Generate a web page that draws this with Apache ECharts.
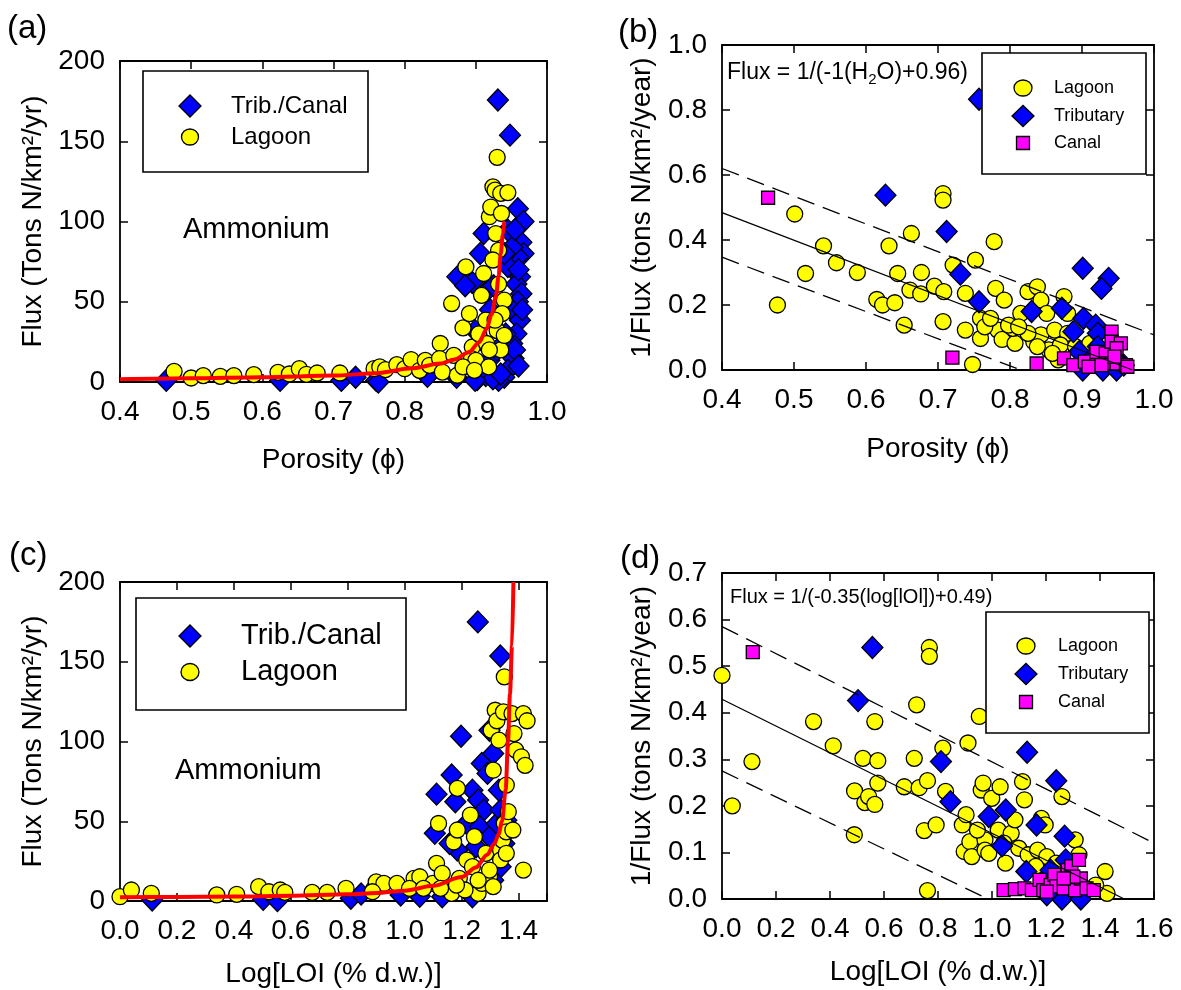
<!DOCTYPE html>
<html><head><meta charset="utf-8">
<script src="https://cdn.jsdelivr.net/npm/echarts@6/dist/echarts.min.js"></script>
<style>html,body{margin:0;padding:0;background:#fff}#c{width:1181px;height:990px}</style>
</head><body><div id="c"></div><script>
const FONT = '"Liberation Sans", Arial, Helvetica, sans-serif';

// ---- tick values ----
const porosityTicks = [0.4, 0.5, 0.6, 0.7, 0.8, 0.9, 1.0];
const fluxTicks = [0, 50, 100, 150, 200];
const invFluxTicksB = [0, 0.2, 0.4, 0.6, 0.8, 1.0];
const logLoiTicksC = [0, 0.2, 0.4, 0.6, 0.8, 1.0, 1.2, 1.4];
const logLoiMaxC = 1.5;
const logLoiTicksD = [0, 0.2, 0.4, 0.6, 0.8, 1.0, 1.2, 1.4, 1.6];
const invFluxTicksD = [0, 0.1, 0.2, 0.3, 0.4, 0.5, 0.6, 0.7];

// ---- panel (a): flux vs porosity ----
const aTrib = [[0.465,1],[0.625,1],[0.711,1],[0.731,3],[0.76,1],[0.763,0],[0.832,3.5],[0.873,3],[0.902,1.5],[0.931,175.7],[0.948,153.8],[0.959,108],[0.967,100],[0.964,87],[0.967,80],[0.959,78],[0.951,84],[0.945,72],[0.962,65.5],[0.957,61],[0.964,55],[0.959,50],[0.951,44.7],[0.962,38.5],[0.957,30],[0.951,24],[0.953,14.6],[0.945,7.3],[0.94,3],[0.932,1],[0.911,92.5],[0.906,80],[0.874,65.5],[0.895,62],[0.916,57],[0.899,32],[0.908,26],[0.919,13.5],[0.914,4],[0.924,2],[0.945,94.6],[0.94,80],[0.942,30],[0.899,1],[0.955,95],[0.96,70],[0.965,45],[0.955,20],[0.96,10],[0.925,60],[0.92,45],[0.93,20],[0.935,5],[0.885,60]];
const aLagoon = [[0.476,6.6],[0.50,2.5],[0.517,4],[0.541,3.5],[0.56,4],[0.588,4.6],[0.622,6],[0.638,5],[0.652,8.3],[0.662,4.8],[0.677,5.6],[0.709,5.6],[0.757,8.3],[0.765,9.4],[0.773,7.7],[0.789,10.8],[0.80,8.3],[0.809,14],[0.821,7.3],[0.829,13.5],[0.835,10.4],[0.85,24],[0.849,14.6],[0.853,6.2],[0.866,48.9],[0.869,16.6],[0.874,4.2],[0.882,33.7],[0.886,71.7],[0.891,42.6],[0.895,21.8],[0.894,14.6],[0.90,13.5],[0.904,30],[0.908,54],[0.911,67.6],[0.914,38.5],[0.915,24],[0.918,9.4],[0.919,103],[0.924,121.6],[0.927,119.5],[0.93,140],[0.921,109],[0.928,92.5],[0.932,82],[0.935,117.5],[0.945,118],[0.936,105],[0.924,76],[0.932,61],[0.94,51],[0.937,42.6],[0.93,32],[0.935,20],[0.927,38.5],[0.919,20],[0.94,29],[0.882,9.4],[0.898,7.3]];
const aFit = [[0.4,1.7],[0.5,2.3],[0.6,3.0],[0.7,4.0],[0.76,5.5],[0.81,8.5],[0.85,11.5],[0.87,14],[0.89,18.5],[0.905,25],[0.915,33],[0.922,42],[0.928,53],[0.932,66],[0.935,80],[0.938,92],[0.94,100]];

// ---- panel (b): 1/flux vs porosity ----
const bLagoon = [[0.477,0.20],[0.501,0.48],[0.516,0.297],[0.541,0.382],[0.559,0.33],[0.588,0.30],[0.615,0.217],[0.623,0.20],[0.632,0.382],[0.64,0.207],[0.644,0.297],[0.653,0.138],[0.661,0.246],[0.663,0.42],[0.676,0.234],[0.677,0.30],[0.695,0.258],[0.707,0.543],[0.707,0.523],[0.708,0.241],[0.707,0.149],[0.721,0.323],[0.738,0.236],[0.738,0.123],[0.748,0.017],[0.752,0.338],[0.759,0.159],[0.759,0.097],[0.778,0.395],[0.78,0.251],[0.792,0.215],[0.783,0.123],[0.789,0.094],[0.807,0.082],[0.804,0.128],[0.798,0.138],[0.815,0.174],[0.825,0.241],[0.838,0.256],[0.843,0.215],[0.851,0.174],[0.833,0.087],[0.843,0.108],[0.854,0.062],[0.862,0.123],[0.875,0.226],[0.867,0.031],[0.88,0.113],[0.87,0.077],[0.891,0.072],[0.901,0.051],[0.825,0.113],[0.765,0.133],[0.773,0.159],[0.812,0.133],[0.838,0.072],[0.859,0.051],[0.911,0.082],[0.88,0.174]];
const bTrib = [[0.757,0.833],[0.627,0.538],[0.712,0.426],[0.731,0.295],[0.757,0.21],[0.83,0.18],[0.872,0.19],[0.901,0.313],[0.937,0.282],[0.927,0.251],[0.902,0.159],[0.888,0.118],[0.919,0.138],[0.922,0.113],[0.896,0.056],[0.911,0.031],[0.929,0.0],[0.948,0.0],[0.901,0.0],[0.937,0.051],[0.922,0.072],[0.958,0.015],[0.948,0.031]];
const bCanal = [[0.464,0.53],[0.72,0.038],[0.837,0.02],[0.875,0.036],[0.888,0.015],[0.904,0.026],[0.92,0.026],[0.92,0.056],[0.933,0.051],[0.941,0.118],[0.941,0.087],[0.954,0.082],[0.948,0.067],[0.935,0.02],[0.948,0.02],[0.961,0.015],[0.963,0.01],[0.927,0.015],[0.909,0.01],[0.945,0.041]];
const bFit = [[0.4,0.484],[0.97,0]];
const bUpper = [[0.4,0.62],[1.0,0.108]];
const bLower = [[0.4,0.347],[0.815,0]];

// ---- panel (c): flux vs log LOI ----
const cTrib = [[0.113,0.6],[0.503,1],[0.553,0.2],[0.811,1.7],[0.847,4.4],[0.986,3.8],[1.053,3],[1.132,2.7],[1.238,2.7],[1.257,175],[1.336,153.6],[1.198,103.3],[1.165,79],[1.112,67],[1.106,42.4],[1.185,32],[1.178,62.2],[1.218,48.6],[1.238,69.5],[1.258,63.3],[1.271,86.2],[1.291,80],[1.311,92.5],[1.298,107],[1.278,57],[1.264,46.6],[1.298,40.3],[1.324,48.6],[1.337,57],[1.357,50.7],[1.35,36],[1.337,21.5],[1.311,13],[1.158,36],[1.251,34],[1.331,69.5]];
const cLagoon = [[0.0,2.7],[0.04,6.9],[0.11,4.8],[0.34,3.8],[0.41,4.2],[0.487,9],[0.523,5.8],[0.563,6.9],[0.579,5.4],[0.675,5.4],[0.728,5.4],[0.794,7.9],[0.891,7.5],[0.9,12],[0.927,11],[0.973,11],[1.033,14.2],[1.053,15.2],[1.017,7.9],[1.099,11],[1.112,23.6],[1.119,48.6],[1.132,17.3],[1.165,4.8],[1.172,37],[1.185,70.6],[1.185,44.5],[1.192,14.2],[1.218,25.7],[1.231,53.9],[1.238,21.5],[1.245,40.3],[1.258,4.8],[1.271,11],[1.298,15.2],[1.285,29.9],[1.304,107],[1.311,82],[1.318,119.6],[1.324,113],[1.331,100.8],[1.337,32],[1.344,38],[1.35,140.5],[1.347,118.6],[1.357,72.7],[1.35,48.6],[1.357,43.4],[1.337,25.7],[1.311,9],[1.364,56],[1.377,117.5],[1.384,105],[1.39,94.6],[1.41,90.4],[1.423,85],[1.417,117.5],[1.43,113],[1.417,19.4],[1.38,44.5],[1.357,29.9],[1.298,19.4],[1.258,13],[1.212,6.9],[1.182,10],[1.126,7.9],[1.066,7.9],[0.887,5.8]];
const cFit = [[0,2.3],[0.2,2.5],[0.4,2.8],[0.6,3.3],[0.8,4.2],[0.9,5],[1.0,6.5],[1.1,9.5],[1.2,15],[1.25,21],[1.29,29],[1.315,36],[1.33,42],[1.342,50],[1.355,70],[1.363,100],[1.37,130],[1.377,160],[1.382,200]];

// ---- panel (d): 1/flux vs log LOI ----
const dLagoon = [[0.0,0.48],[0.038,0.20],[0.111,0.295],[0.339,0.381],[0.412,0.329],[0.49,0.138],[0.491,0.232],[0.522,0.302],[0.529,0.207],[0.543,0.22],[0.566,0.381],[0.566,0.203],[0.577,0.297],[0.577,0.249],[0.675,0.241],[0.712,0.302],[0.721,0.417],[0.73,0.239],[0.761,0.254],[0.749,0.147],[0.761,0.018],[0.768,0.54],[0.768,0.521],[0.793,0.159],[0.818,0.324],[0.828,0.231],[0.89,0.159],[0.897,0.102],[0.904,0.181],[0.911,0.335],[0.918,0.123],[0.925,0.091],[0.953,0.392],[0.96,0.234],[0.967,0.249],[0.974,0.127],[0.974,0.105],[0.999,0.216],[1.03,0.241],[1.023,0.148],[1.05,0.077],[1.071,0.141],[1.085,0.17],[1.099,0.109],[1.113,0.252],[1.12,0.213],[1.134,0.095],[1.169,0.105],[1.183,0.173],[1.197,0.159],[1.203,0.091],[1.259,0.22],[1.308,0.127],[1.322,0.095],[1.419,0.059],[1.426,0.012],[1.384,0.03],[1.238,0.077],[1.287,0.041],[1.162,0.07],[0.988,0.098],[0.946,0.148],[1.044,0.12]];
const dTrib = [[0.557,0.54],[0.504,0.426],[0.811,0.295],[0.846,0.209],[0.988,0.177],[1.051,0.191],[1.037,0.114],[1.13,0.315],[1.165,0.159],[1.238,0.254],[1.269,0.135],[1.127,0.059],[1.217,0.062],[1.273,0.084],[1.259,0.0],[1.329,0.0],[1.308,0.044],[1.203,0.009]];
const dCanal = [[0.114,0.53],[1.043,0.019],[1.085,0.021],[1.12,0.023],[1.148,0.019],[1.176,0.041],[1.19,0.019],[1.217,0.03],[1.231,0.052],[1.238,0.027],[1.266,0.023],[1.28,0.062],[1.294,0.07],[1.308,0.019],[1.322,0.084],[1.329,0.044],[1.301,0.048],[1.35,0.023],[1.377,0.019],[1.266,0.044],[1.203,0.016]];
const dFit = [[0,0.429],[1.49,0]];
const dUpper = [[0,0.585],[1.6,0.12]];
const dLower = [[0,0.275],[0.985,0]];

// ---- layout ----
const grids = [
  {left:120, top:61, width:427, height:321},
  {left:722, top:45, width:432, height:325},
  {left:120, top:582, width:427, height:319},
  {left:722, top:573, width:432, height:326}
];

function axisPair(kind, gi, ticks, max, dec, name, nameGap) {
  const iv = +(ticks[1] - ticks[0]).toFixed(6);
  const last = ticks[ticks.length - 1];
  const base = {
    type:'value', gridIndex:gi, min:ticks[0], max:max, interval:iv,
    splitLine:{show:false},
    axisLine:{show:true, onZero:false, lineStyle:{color:'#000', width:1.8}},
    axisTick:{show:true, inside:true, length:8, lineStyle:{color:'#000', width:1.5}}
  };
  const main = Object.assign({}, base, {
    position: kind === 'x' ? 'bottom' : 'left',
    axisLabel:{show:true, margin: kind === 'x' ? 16 : 15, fontSize:28, fontFamily:FONT, color:'#000',
      formatter: v => (v > last + 1e-9 ? '' : v.toFixed(dec))},
    name:name, nameLocation:'middle', nameGap:nameGap,
    nameTextStyle:{fontSize:28, fontFamily:FONT, color:'#000'}
  });
  const sec = Object.assign({}, base, {position: kind === 'x' ? 'top' : 'right', axisLabel:{show:false}});
  return [main, sec];
}

const xAxes = [].concat(
  axisPair('x', 0, porosityTicks, 1.0, 1, 'Porosity (\u03d5)', 64),
  axisPair('x', 1, porosityTicks, 1.0, 1, 'Porosity (\u03d5)', 65),
  axisPair('x', 2, logLoiTicksC, logLoiMaxC, 1, 'Log[LOI (% d.w.)]', 59),
  axisPair('x', 3, logLoiTicksD, 1.6, 1, 'Log[LOI (% d.w.)]', 59)
);
const yAxes = [].concat(
  axisPair('y', 0, fluxTicks, 200, 0, 'Flux (Tons N/km\u00b2/yr)', 73),
  axisPair('y', 1, invFluxTicksB, 1.0, 1, '1/Flux (tons N/km\u00b2/year)', 66),
  axisPair('y', 2, fluxTicks, 200, 0, 'Flux (Tons N/km\u00b2/yr)', 73),
  axisPair('y', 3, invFluxTicksD, 0.7, 1, '1/Flux (tons N/km\u00b2/year)', 66)
);

const STY = {
  lagoon:{symbol:'circle', size:16, color:'#FFFF00'},
  trib:{symbol:'diamond', size:[21,22], color:'#0000FF'},
  canal:{symbol:'rect', size:13, color:'#FF00FF'}
};
function scatter(name, gi, data, kind) {
  const s = STY[kind];
  return {type:'scatter', name:name, xAxisIndex:gi*2, yAxisIndex:gi*2, data:data, clip:false,
    symbol:s.symbol, symbolSize:s.size,
    itemStyle:{color:s.color, borderColor:'#000', borderWidth:1.3, opacity:1}};
}
function line(name, gi, data, style) {
  return Object.assign({type:'line', name:name, xAxisIndex:gi*2, yAxisIndex:gi*2, data:data,
    showSymbol:false, symbol:'none', clip:false, silent:true}, style);
}
const RED = {lineStyle:{color:'#FF0000', width:4}, smooth:0.3, smoothMonotone:'x'};
const SOLID = {lineStyle:{color:'#000', width:1.3}};
const DASH = {lineStyle:{color:'#000', width:1.3, type:[18,9]}};

const series = [
  scatter('Trib./Canal', 0, aTrib, 'trib'),
  scatter('Lagoon', 0, aLagoon, 'lagoon'),
  line('fit a', 0, aFit, RED),
  scatter('Lagoon', 1, bLagoon, 'lagoon'),
  scatter('Tributary', 1, bTrib, 'trib'),
  scatter('Canal', 1, bCanal, 'canal'),
  line('fit b', 1, bFit, SOLID),
  line('upper b', 1, bUpper, DASH),
  line('lower b', 1, bLower, DASH),
  scatter('Trib./Canal', 2, cTrib, 'trib'),
  scatter('Lagoon', 2, cLagoon, 'lagoon'),
  line('fit c', 2, cFit, RED),
  scatter('Lagoon', 3, dLagoon, 'lagoon'),
  scatter('Tributary', 3, dTrib, 'trib'),
  scatter('Canal', 3, dCanal, 'canal'),
  line('fit d', 3, dFit, SOLID),
  line('upper d', 3, dUpper, DASH),
  line('lower d', 3, dLower, DASH)
];

// ---- legends & annotations (graphic) ----
function txt(x, y, text, size, extra) {
  return {type:'text', x:x, y:y, z:110, style:Object.assign({text:text, fontSize:size, fontFamily:FONT, fill:'#000', verticalAlign:'middle', align:'left'}, extra || {})};
}
function marker(kind, cx, cy, w, h) {
  const st = {fill:STY[kind].color, stroke:'#000', lineWidth:1.3};
  if (kind === 'lagoon') return {type:'ellipse', z:110, shape:{cx:cx, cy:cy, rx:w/2, ry:h/2}, style:st};
  if (kind === 'trib') return {type:'polygon', z:110, shape:{points:[[cx-w/2,cy],[cx,cy-h/2],[cx+w/2,cy],[cx,cy+h/2]]}, style:st};
  return {type:'rect', z:110, shape:{x:cx-w/2, y:cy-h/2, width:w, height:h}, style:st};
}
function legendBox(x, y, w, h, items, mx, tx, size) {
  const out = [{type:'rect', z:105, shape:{x:x, y:y, width:w, height:h}, style:{fill:'#fff', stroke:'#000', lineWidth:1.6}}];
  items.forEach(it => {
    out.push(marker(it.kind, mx, it.y, it.w, it.h));
    out.push(txt(tx, it.y, it.label, size));
  });
  return out;
}

const graphics = [].concat(
  legendBox(143, 71, 225, 101, [
    {kind:'trib', y:106, w:22, h:22, label:'Trib./Canal'},
    {kind:'lagoon', y:137, w:17, h:16, label:'Lagoon'}], 190, 231, 24),
  legendBox(982, 53, 164, 121, [
    {kind:'lagoon', y:88, w:18, h:16, label:'Lagoon'},
    {kind:'trib', y:116, w:22, h:21, label:'Tributary'},
    {kind:'canal', y:143, w:13, h:13, label:'Canal'}], 1023, 1054, 18),
  legendBox(136, 598, 270, 112, [
    {kind:'trib', y:636, w:22, h:22, label:'Trib./Canal'},
    {kind:'lagoon', y:672, w:18, h:17, label:'Lagoon'}], 190, 241, 29),
  legendBox(986, 612, 163, 121, [
    {kind:'lagoon', y:646, w:18, h:16, label:'Lagoon'},
    {kind:'trib', y:674, w:22, h:21, label:'Tributary'},
    {kind:'canal', y:702, w:13, h:13, label:'Canal'}], 1026, 1058, 18),
  [
    txt(183, 230, 'Ammonium', 29),
    txt(175, 771, 'Ammonium', 29),
    {type:'text', x:727, y:73, z:110, style:{
      text:'{a|Flux = 1/(-1(H}{s|2}{a|O)+0.96)}', fontFamily:FONT, fill:'#000', verticalAlign:'middle', align:'left',
      rich:{a:{fontSize:23, fontFamily:FONT, lineHeight:28}, s:{fontSize:15, fontFamily:FONT, lineHeight:15, verticalAlign:'bottom'}}}},
    txt(730, 597, 'Flux = 1/(-0.35(log[lOl])+0.49)', 20),
    txt(7, 29, '(a)', 33),
    txt(618, 33, '(b)', 33),
    txt(9, 556, '(c)', 33),
    txt(620, 559, '(d)', 33)
  ]
);

const chart = echarts.init(document.getElementById('c'), null, {renderer:'canvas'});
chart.setOption({
  animation:false,
  backgroundColor:'#fff',
  grid:grids,
  xAxis:xAxes,
  yAxis:yAxes,
  series:series,
  graphic:graphics
});
</script></body></html>
